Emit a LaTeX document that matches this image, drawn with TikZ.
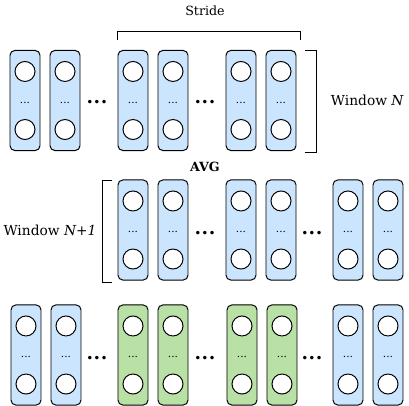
\documentclass[tikz,border=0pt]{standalone}
\usepackage{fontspec}
\setmainfont{DejaVu Serif}
\newfontfamily\dotfont{DejaVu Sans}

\definecolor{unitblue}{HTML}{CCE5FF}
\definecolor{unitgreen}{HTML}{B9E0A5}

\tikzset{
  col/.style={draw, rounded corners=0.12cm, minimum width=0.75cm, minimum height=2.5cm, line width=0.7pt},
  unit/.style={draw, circle, fill=white, minimum size=0.5cm, inner sep=0pt, line width=0.7pt},
  gap/.style={font=\dotfont\fontsize{8.5}{10}\selectfont, inner sep=0pt},
  label/.style={font=\fontsize{9}{11}\selectfont},
  winlabel/.style={font=\fontsize{9.8}{12}\selectfont},
}

% one column of units: name, x, y, fill
\newcommand{\unitcol}[4]{%
  \node[col, fill=#4] (#1) at (#2,#3) {};
  \node[unit] (#1-top) at ([yshift=0.725cm]#1.center) {};
  \node[unit] (#1-bot) at ([yshift=-0.725cm]#1.center) {};
  \node[font=\fontsize{7.5}{8}\selectfont] (#1-mid) at ([yshift=-0.06cm]#1.center) {...};
}

\begin{document}
\begin{tikzpicture}[x=0.025cm, y=-0.025cm]
        \useasboundingbox (0,0) rectangle (409,406);

        % Window N
        \unitcol{a1}{25}{100.5}{unitblue}
        \unitcol{a2}{65}{100.5}{unitblue}
        \unitcol{a3}{133}{100.5}{unitblue}
        \unitcol{a4}{173}{100.5}{unitblue}
        \unitcol{a5}{241}{100.5}{unitblue}
        \unitcol{a6}{281}{100.5}{unitblue}
        \node[gap] (a-gap1) at (97,103) {•••};
        \node[gap] (a-gap2) at (205,103) {•••};

        % Stride bracket
        \draw[line width=0.7pt] (117,40) |- (300,31) -- (300,40);
        \node[label] (stride) at (205,11) {Stride};

        % Window N bracket
        \draw[line width=0.7pt] (305,50) -| (316,152) -- (305,152);
        \node[winlabel, anchor=west] (winN) at (326,100) {Window \textit{N}};

        % Window N+1
        \node[label, font=\bfseries\fontsize{9}{11}\selectfont] (avg) at (205,167) {AVG};
        \unitcol{b1}{133}{230}{unitblue}
        \unitcol{b2}{173}{230}{unitblue}
        \unitcol{b3}{241}{230}{unitblue}
        \unitcol{b4}{281}{230}{unitblue}
        \unitcol{b5}{348}{230}{unitblue}
        \unitcol{b6}{388}{230}{unitblue}
        \node[gap] (b-gap1) at (205,234) {•••};
        \node[gap] (b-gap2) at (312,234) {•••};

        % Window N+1 bracket
        \draw[line width=0.7pt] (112,180) -| (102,282) -- (112,282);
        \node[winlabel] (winN1) at (50,230) {Window \textit{N+1}};

        % Result
        \unitcol{c1}{26}{355}{unitblue}
        \unitcol{c2}{66}{355}{unitblue}
        \unitcol{c3}{133}{355}{unitgreen}
        \unitcol{c4}{173}{355}{unitgreen}
        \unitcol{c5}{242}{355}{unitgreen}
        \unitcol{c6}{282}{355}{unitgreen}
        \unitcol{c7}{348}{355}{unitblue}
        \unitcol{c8}{388}{355}{unitblue}
        \node[gap] (c-gap1) at (97,359) {•••};
        \node[gap] (c-gap2) at (205,359) {•••};
        \node[gap] (c-gap3) at (312,359) {•••};
\end{tikzpicture}
\end{document}
